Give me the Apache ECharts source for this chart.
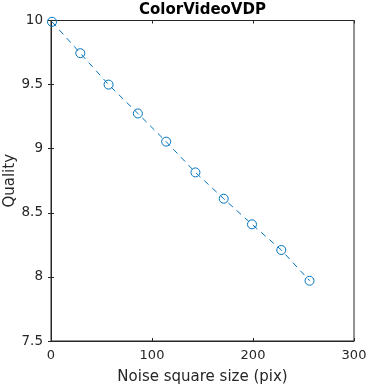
<!DOCTYPE html>
<html><head><meta charset="utf-8">
<script src="https://cdn.jsdelivr.net/npm/echarts@6/dist/echarts.min.js"></script>
<style>html,body{margin:0;padding:0;background:#fff}#c{width:369px;height:387px}</style>
</head><body><div id="c"></div>
<script>
const noiseSize = [1, 29, 57, 86, 114, 143, 171, 199, 228, 256];
const quality = [9.99, 9.745, 9.50, 9.275, 9.055, 8.815, 8.61, 8.41, 8.21, 7.97];
const titleText = 'ColorVideoVDP';
const xName = 'Noise square size (pix)';
const yName = 'Quality';
const font = 'DejaVu Sans';
const axisCol = '#262626';
const lineCol = '#0072BD';

const chart = echarts.init(document.getElementById('c'), null, {renderer: 'canvas'});
const tickStyle = {show: true, inside: true, length: 3, lineStyle: {color: axisCol, width: 1}};
const baseAxis = {
  axisLine: {show: true, lineStyle: {color: axisCol, width: 1}},
  splitLine: {show: false},
};
chart.setOption({
  animation: false,
  title: {text: titleText, left: 134, top: -2,
    textStyle: {fontFamily: font, fontWeight: 'bold', fontSize: 15, color: '#000'}},
  grid: {left: 51, right: 15, top: 20.5, bottom: 46, show: true, borderColor: axisCol, borderWidth: 1,
    backgroundColor: 'transparent', containLabel: false, outerBoundsMode: 'none'},
  xAxis: [
    Object.assign({}, baseAxis, {type: 'value', position: 'bottom', min: 0, max: 300, interval: 100,
      axisTick: tickStyle,
      axisLabel: {margin: 8, fontFamily: font, fontSize: 13, color: axisCol},
      name: xName, nameLocation: 'middle', nameGap: 29, nameMoveOverlap: false,
      nameTextStyle: {fontFamily: font, fontSize: 15, color: axisCol}}),
    Object.assign({}, baseAxis, {type: 'value', position: 'top', min: 0, max: 300, interval: 100,
      axisTick: tickStyle, axisLabel: {show: false}})
  ],
  yAxis: [
    Object.assign({}, baseAxis, {type: 'value', position: 'left', min: 7.5, max: 10, interval: 0.5,
      axisTick: tickStyle,
      axisLabel: {margin: 8, fontFamily: font, fontSize: 13.5, color: axisCol},
      name: yName, nameLocation: 'middle', nameGap: 33, nameMoveOverlap: false,
      nameTextStyle: {fontFamily: font, fontSize: 15, color: axisCol}}),
    Object.assign({}, baseAxis, {type: 'value', position: 'right', min: 7.5, max: 10, interval: 0.5,
      axisTick: tickStyle, axisLabel: {show: false}})
  ],
  series: [{
    type: 'line',
    data: noiseSize.map((x, i) => [x, quality[i]]),
    symbol: 'circle', symbolSize: 9, showAllSymbol: true,
    itemStyle: {color: 'transparent', borderColor: lineCol, borderWidth: 1},
    lineStyle: {color: lineCol, width: 1, type: [6, 5]},
    clip: false
  }]
});
</script></body></html>
